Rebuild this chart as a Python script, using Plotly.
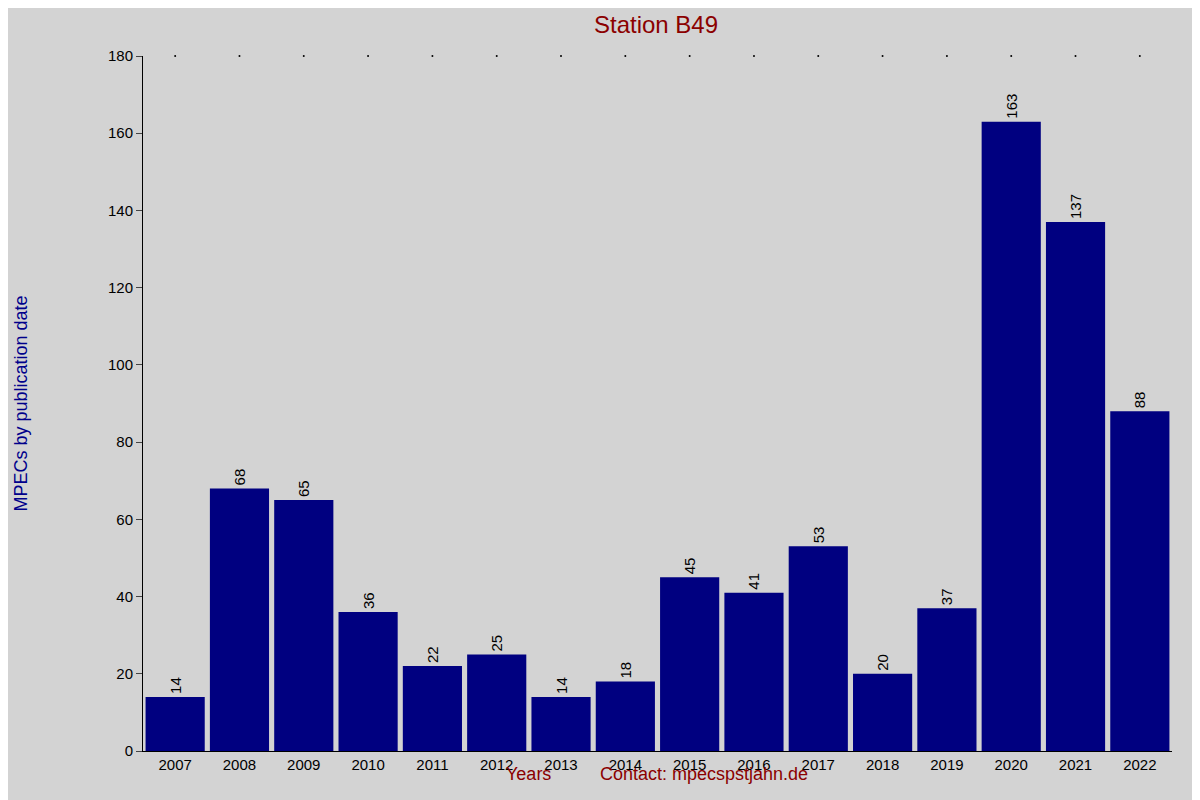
import plotly.graph_objects as go

years = [str(y) for y in range(2007, 2023)]
counts = [14, 68, 65, 36, 22, 25, 14, 18, 45, 41, 53, 20, 37, 163, 137, 88]
y_ticks = list(range(0, 181, 20))

fig = go.Figure()
fig.add_trace(go.Bar(
    x=years, y=counts, marker_color="#000080", marker_line_width=0,
    text=[str(c) for c in counts], textposition="outside", textangle=-90,
    textfont=dict(color="black", size=15), cliponaxis=False, width=0.92,
))
# small dots along the top at each year
fig.add_trace(go.Scatter(
    x=years, y=[180] * len(years), mode="markers",
    marker=dict(color="black", size=2), hoverinfo="skip", cliponaxis=False,
))

fig.update_layout(
    width=1200, height=800,
    paper_bgcolor="#d3d3d3", plot_bgcolor="#d3d3d3",
    font=dict(family="Liberation Sans, Arial", size=15, color="black"),
    showlegend=False,
    margin=dict(l=118, r=36, t=48, b=57),
    title=dict(text="Station B49", x=0.54, y=0.99, xanchor="center",
               font=dict(size=24, color="#8b0000")),
    annotations=[
        dict(text="Years", x=0.375, xref="paper", y=-0.05, yref="paper",
             showarrow=False, font=dict(size=18, color="#8b0000")),
        dict(text="Contact: mpecspstjahn.de", x=0.545, xref="paper", y=-0.05,
             yref="paper", showarrow=False, font=dict(size=18, color="#8b0000")),
    ],
)
fig.update_xaxes(range=[-0.5, 15.5], showgrid=False, showline=True,
                 linecolor="black", ticks="", tickfont=dict(size=15))
fig.update_yaxes(range=[0, 180], tickvals=y_ticks, showgrid=False,
                 showline=True, linecolor="black", ticks="outside",
                 ticklen=6, tickfont=dict(size=15), zeroline=False,
                 title=dict(text="MPECs by publication date", standoff=75,
                            font=dict(size=18, color="#00008b")))

fig.write_html("out.html")
